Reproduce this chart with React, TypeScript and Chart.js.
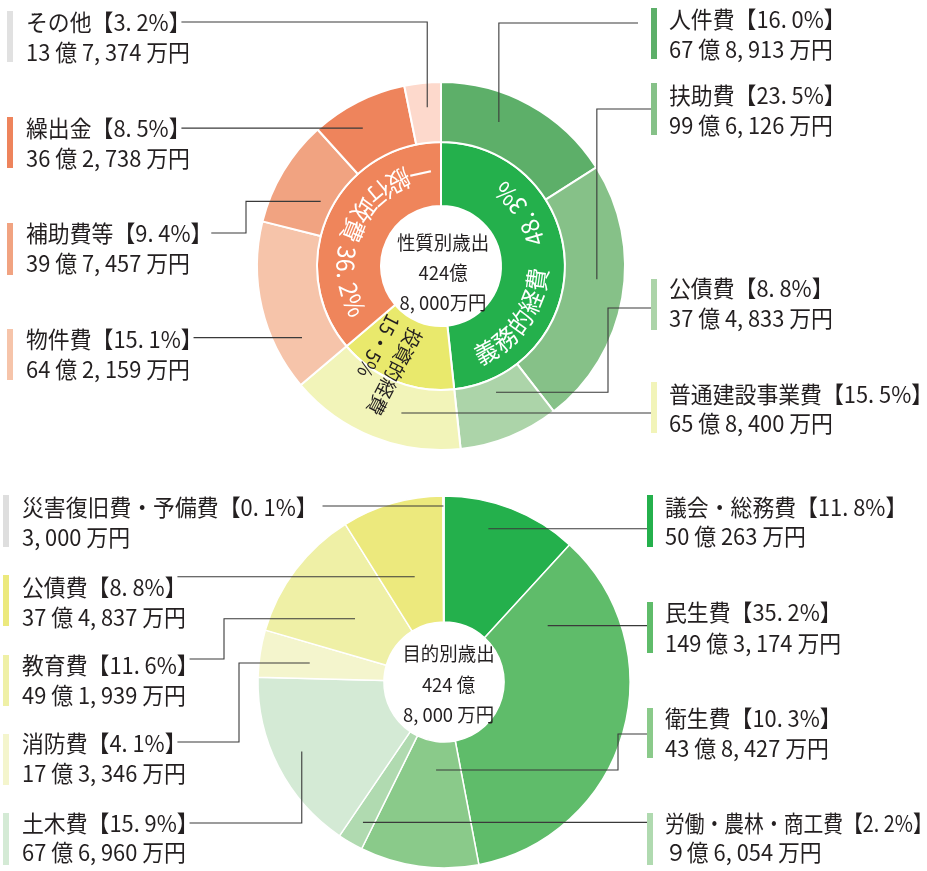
import React, { useEffect, useRef } from 'react';
import { Chart, registerables } from 'chart.js';

Chart.register(...registerables);

// ---------- 性質別歳出 (top) ----------
const natureOuterLabels = ['人件費', '扶助費', '公債費', '普通建設事業費', '物件費', '補助費等', '繰出金', 'その他'];
const natureOuterValues = [16.0, 23.5, 8.8, 15.5, 15.1, 9.4, 8.5, 3.2];
const natureOuterAmounts = [
  '67 億 8, 913 万円',
  '99 億 6, 126 万円',
  '37 億 4, 833 万円',
  '65 億 8, 400 万円',
  '64 億 2, 159 万円',
  '39 億 7, 457 万円',
  '36 億 2, 738 万円',
  '13 億 7, 374 万円',
];
const natureOuterColors = ['#5daf69', '#86c188', '#acd4a9', '#f2f4b9', '#f6c4aa', '#f1a381', '#ee845c', '#fdd9cc'];
const natureOuterBarColors = ['#5daf69', '#86c188', '#acd4a9', '#f2f4b9', '#f6c4aa', '#f1a381', '#ee845c', '#e1e1e1'];
const natureInnerLabels = ['義務的経費', '投資的経費', '一般行政費'];
const natureInnerValues = [48.3, 15.5, 36.2];
const natureInnerColors = ['#24b04c', '#e9e96c', '#ef855b'];
const natureCenterLines = ['性質別歳出', '424億', '8, 000万円'];

// ---------- 目的別歳出 (bottom) ----------
const purposeLabels = ['議会・総務費', '民生費', '衛生費', '労働・農林・商工費', '土木費', '消防費', '教育費', '公債費', '災害復旧費・予備費'];
const purposeValues = [11.8, 35.2, 10.3, 2.2, 15.9, 4.1, 11.6, 8.8, 0.1];
const purposeAmounts = [
  '50 億 263 万円',
  '149 億 3, 174 万円',
  '43 億 8, 427 万円',
  '９億 6, 054 万円',
  '67 億 6, 960 万円',
  '17 億 3, 346 万円',
  '49 億 1, 939 万円',
  '37 億 4, 837 万円',
  '3, 000 万円',
];
const purposeColors = ['#24b04c', '#5fbc6a', '#8aca8a', '#b0dab0', '#d4ead5', '#f4f5cd', '#eff0a6', '#ece97d', '#d8d8d8'];
const purposeBarColors = ['#24b04c', '#5fbc6a', '#8aca8a', '#b0dab0', '#d4ead5', '#f4f5cd', '#eff0a6', '#ece97d', '#dedede'];
const purposeCenterLines = ['目的別歳出', '424 億', '8, 000 万円'];

// ---------- layout (page coordinates) ----------
const FONT = "'Noto Sans CJK JP', 'Noto Sans', sans-serif";
const TEXT = '#231f20';
const LINE = '#3a3a3a';
const LABEL_SIZE = 23;
const LABEL_SX = 0.95;

type Layout = {
  side: 'left' | 'right';
  barX: number; textX: number; y1: number; y2: number; barTop: number; barBottom: number;
  t: number; rf: number; route: 'h' | 'hv' | 'hvh';
  lineY?: number; elbowX?: number; endX?: number; gap?: number; sx?: number;
};

const natureLayout: Layout[] = [
  { side: 'right', barX: 651, textX: 669, y1: 19, y2: 49, barTop: 8, barBottom: 59, t: 0.38, rf: 0.52, route: 'hv', lineY: 23, endX: 638 },
  { side: 'right', barX: 651, textX: 669, y1: 95, y2: 125, barTop: 83, barBottom: 135, t: 0.44, rf: 0.54, route: 'hv', lineY: 109 },
  { side: 'right', barX: 651, textX: 669, y1: 288, y2: 318, barTop: 279, barBottom: 330, t: 0.45, rf: 0.23, route: 'hvh', lineY: 308, elbowX: 608 },
  { side: 'right', barX: 651, textX: 669, y1: 394, y2: 423, barTop: 382, barBottom: 433, t: 0.38, rf: 0.47, route: 'h' },
  { side: 'left', barX: 7, textX: 26, y1: 339, y2: 369, barTop: 329, barBottom: 380, t: 0.24, rf: 0.54, route: 'h' },
  { side: 'left', barX: 7, textX: 26, y1: 233, y2: 263, barTop: 223, barBottom: 275, t: 0.42, rf: 0.21, route: 'hvh', lineY: 233, elbowX: 246, gap: 8 },
  { side: 'left', barX: 7, textX: 26, y1: 128, y2: 158, barTop: 117, barBottom: 168, t: 0.41, rf: 0.575, route: 'h' },
  { side: 'left', barX: 7, textX: 26, y1: 22, y2: 52, barTop: 11, barBottom: 62, t: 0.57, rf: 0.59, route: 'hv', lineY: 22 },
];

const purposeLayout: Layout[] = [
  { side: 'right', barX: 647, textX: 665, y1: 507, y2: 536, barTop: 495, barBottom: 547, t: 0.38, rf: 0.79, route: 'h' },
  { side: 'right', barX: 647, textX: 665, y1: 612, y2: 643, barTop: 602, barBottom: 653, t: 0.15, rf: 0.46, route: 'h' },
  { side: 'right', barX: 647, textX: 665, y1: 718, y2: 748, barTop: 708, barBottom: 758, t: 0.43, rf: 0.225, route: 'hvh', lineY: 734, elbowX: 618 },
  { side: 'right', barX: 647, textX: 665, y1: 823, y2: 852, barTop: 813, barBottom: 865, t: 0.47, rf: 0.81, route: 'h', sx: 0.86 },
  { side: 'left', barX: 3, textX: 22, y1: 823, y2: 852, barTop: 813, barBottom: 865, t: 0.52, rf: 0.78, route: 'hv', lineY: 823 },
  { side: 'left', barX: 3, textX: 22, y1: 743, y2: 773, barTop: 734, barBottom: 785, t: 0.45, rf: 0.6, route: 'hvh', lineY: 742, elbowX: 239 },
  { side: 'left', barX: 3, textX: 22, y1: 665, y2: 695, barTop: 655, barBottom: 706, t: 0.46, rf: 0.39, route: 'hvh', lineY: 659, elbowX: 224 },
  { side: 'left', barX: 3, textX: 22, y1: 587, y2: 617, barTop: 575, barBottom: 626, t: 0.52, rf: 0.39, route: 'h' },
  { side: 'left', barX: 3, textX: 22, y1: 507, y2: 537, barTop: 495, barBottom: 547, t: 0.5, rf: 0.92, route: 'h', gap: 14 },
];

function pctText(v: number) {
  const [a, b] = v.toFixed(1).split('.');
  return `【${a}. ${b}%】`;
}

function drawText(ctx: CanvasRenderingContext2D, text: string, x: number, y: number, size: number, color: string, align: CanvasTextAlign, sx: number) {
  ctx.save();
  ctx.font = `${size}px ${FONT}`;
  ctx.fillStyle = color;
  ctx.textAlign = align;
  ctx.textBaseline = 'middle';
  ctx.translate(x, y);
  ctx.scale(sx, 1);
  ctx.fillText(text, 0, 0);
  const w = ctx.measureText(text).width * sx;
  ctx.restore();
  return w;
}

function drawArcText(ctx: CanvasRenderingContext2D, text: string, cx: number, cy: number, r: number, centerAngle: number, size: number, color: string, sx: number) {
  ctx.save();
  ctx.font = `${size}px ${FONT}`;
  ctx.fillStyle = color;
  ctx.textAlign = 'center';
  ctx.textBaseline = 'middle';
  const chars = Array.from(text);
  const ws = chars.map((ch) => ctx.measureText(ch).width * sx);
  const total = ws.reduce((a, b) => a + b, 0);
  const a0 = centerAngle + total / 2 / r;
  let acc = 0;
  chars.forEach((ch, i) => {
    const a = a0 - (acc + ws[i] / 2) / r;
    acc += ws[i];
    ctx.save();
    ctx.translate(cx + r * Math.cos(a), cy + r * Math.sin(a));
    ctx.rotate(Math.atan2(-Math.cos(a), Math.sin(a)));
    ctx.scale(sx, 1);
    ctx.fillText(ch, 0, 0);
    ctx.restore();
  });
  ctx.restore();
}

type RingText =
  | { kind: 'arc'; ds: number; idx: number; text: string; t: number; r: number; size: number; color: string }
  | { kind: 'radial'; ds: number; idx: number; lines: string[]; t: number; r: number; size: number; color: string; rot: number; lineGap: number; line2dx: number };

type PluginOpts = {
  id: string;
  offsetY: number;
  labels: string[];
  values: number[];
  amounts: string[];
  barColors: string[];
  layout: Layout[];
  centerLines: string[];
  centerDx: number;
  centerDy: number[];
  centerSize: number;
  ringTexts: RingText[];
};

function makePlugin(o: PluginOpts) {
  return {
    id: o.id,
    afterDraw(chart: any) {
      const ctx: CanvasRenderingContext2D = chart.ctx;
      const meta = chart.getDatasetMeta(0);
      const first = meta.data[0];
      const cx = first.x;
      const cy = first.y;

      // ring texts
      o.ringTexts.forEach((rt) => {
        const arc = chart.getDatasetMeta(rt.ds).data[rt.idx];
        const p = arc.getProps(['startAngle', 'endAngle'], true);
        const ang = p.startAngle + rt.t * (p.endAngle - p.startAngle);
        if (rt.kind === 'arc') {
          drawArcText(ctx, rt.text, cx, cy, rt.r, ang, rt.size, rt.color, 0.92);
        } else {
          ctx.save();
          ctx.translate(cx + rt.r * Math.cos(ang), cy + rt.r * Math.sin(ang));
          ctx.rotate(ang + (rt.rot * Math.PI) / 180);
          drawText(ctx, rt.lines[0], 0, 0, rt.size, rt.color, 'left', 0.95);
          drawText(ctx, rt.lines[1], rt.line2dx, rt.lineGap, rt.size, rt.color, 'left', 0.95);
          ctx.restore();
        }
      });

      // center text
      o.centerLines.forEach((s, i) => drawText(ctx, s, cx + o.centerDx, cy + o.centerDy[i], o.centerSize, TEXT, 'center', 0.97));

      // labels + leader lines
      ctx.save();
      ctx.strokeStyle = LINE;
      ctx.lineWidth = 1.1;
      o.layout.forEach((L, i) => {
        const oy = o.offsetY;
        const arc = meta.data[i];
        const p = arc.getProps(['startAngle', 'endAngle', 'innerRadius', 'outerRadius'], true);
        const ang = p.startAngle + L.t * (p.endAngle - p.startAngle);
        const rr = p.innerRadius + L.rf * (p.outerRadius - p.innerRadius);
        const A = { x: cx + rr * Math.cos(ang), y: cy + rr * Math.sin(ang) };

        // bar
        ctx.fillStyle = o.barColors[i];
        ctx.fillRect(L.barX, L.barTop - oy, 6, L.barBottom - L.barTop);
        // text
        const sxl = L.sx || LABEL_SX;
        const line1 = o.labels[i] + pctText(o.values[i]);
        const w = drawText(ctx, line1, L.textX, L.y1 - oy, LABEL_SIZE, TEXT, 'left', sxl);
        drawText(ctx, o.amounts[i], L.textX, L.y2 - oy, LABEL_SIZE, TEXT, 'left', LABEL_SX);

        let sx: number;
        if (L.side === 'left') {
          sx = L.textX + w - LABEL_SIZE * sxl * 0.42 + (L.gap || 0);
        } else {
          sx = L.endX !== undefined ? L.endX : L.barX;
        }
        ctx.beginPath();
        if (L.route === 'h') {
          ctx.moveTo(sx, A.y);
          ctx.lineTo(A.x, A.y);
        } else if (L.route === 'hv') {
          const ly = (L.lineY as number) - oy;
          ctx.moveTo(sx, ly);
          ctx.lineTo(A.x, ly);
          ctx.lineTo(A.x, A.y);
        } else {
          const ly = (L.lineY as number) - oy;
          ctx.moveTo(sx, ly);
          ctx.lineTo(L.elbowX as number, ly);
          ctx.lineTo(L.elbowX as number, A.y);
          ctx.lineTo(A.x, A.y);
        }
        ctx.stroke();
      });
      ctx.restore();
    },
  };
}

export default function App() {
  const topRef = useRef<HTMLCanvasElement>(null);
  const botRef = useRef<HTMLCanvasElement>(null);

  useEffect(() => {
    const topChart = new Chart(topRef.current as HTMLCanvasElement, {
      type: 'doughnut',
      data: {
        labels: natureOuterLabels,
        datasets: [
          { data: natureOuterValues, backgroundColor: natureOuterColors, borderColor: '#ffffff', borderWidth: 2, weight: 60 } as any,
          { data: natureInnerValues, labels: natureInnerLabels, backgroundColor: natureInnerColors, borderColor: '#ffffff', borderWidth: 2, weight: 64 } as any,
        ],
      },
      options: {
        responsive: false,
        animation: false,
        events: [],
        radius: 184,
        cutout: '32.6%',
        layout: { padding: { left: 257, right: 302, top: 82, bottom: 10 } },
        plugins: { legend: { display: false }, tooltip: { enabled: false } },
      } as any,
      plugins: [
        makePlugin({
          id: 'natureLabels',
          offsetY: 0,
          labels: natureOuterLabels,
          values: natureOuterValues,
          amounts: natureOuterAmounts,
          barColors: natureOuterBarColors,
          layout: natureLayout,
          centerLines: natureCenterLines,
          centerDx: 2,
          centerDy: [-23, 7, 37],
          centerSize: 19,
          ringTexts: [
            { kind: 'arc', ds: 1, idx: 0, text: natureInnerLabels[0] + '　' + natureInnerValues[0].toFixed(1).replace('.', '. ') + '%', t: 0.56, r: 97, size: 25, color: '#ffffff' },
            { kind: 'arc', ds: 1, idx: 2, text: natureInnerLabels[2] + ' ' + natureInnerValues[2].toFixed(1).replace('.', '. ') + '%', t: 0.515, r: 95, size: 25, color: '#ffffff' },
            { kind: 'radial', ds: 1, idx: 1, lines: [natureInnerLabels[1], natureInnerValues[1].toFixed(1).replace('.', '・') + '%'], t: 0.49, r: 68, size: 20, color: '#231f20', rot: 6, lineGap: 26, line2dx: -2 },
          ],
        }),
      ],
    });

    const botChart = new Chart(botRef.current as HTMLCanvasElement, {
      type: 'doughnut',
      data: {
        labels: purposeLabels,
        datasets: [{ data: purposeValues, backgroundColor: purposeColors, borderColor: '#ffffff', borderWidth: 1.5 }],
      },
      options: {
        responsive: false,
        animation: false,
        events: [],
        radius: 186,
        cutout: '32.3%',
        layout: { padding: { left: 258, right: 297, top: 36, bottom: 3 } },
        plugins: { legend: { display: false }, tooltip: { enabled: false } },
      } as any,
      plugins: [
        makePlugin({
          id: 'purposeLabels',
          offsetY: 460,
          labels: purposeLabels,
          values: purposeValues,
          amounts: purposeAmounts,
          barColors: purposeBarColors,
          layout: purposeLayout,
          centerLines: purposeCenterLines,
          centerDx: 4.5,
          centerDy: [-28, 3, 33],
          centerSize: 19,
          ringTexts: [],
        }),
      ],
    });

    return () => {
      topChart.destroy();
      botChart.destroy();
    };
  }, []);

  return (
    <div style={{ position: 'absolute', left: 0, top: 0, width: 927, height: 871, background: '#ffffff' }}>
      <canvas ref={topRef} width={927} height={460} style={{ position: 'absolute', left: 0, top: 0, width: 927, height: 460 }} />
      <canvas ref={botRef} width={927} height={411} style={{ position: 'absolute', left: 0, top: 460, width: 927, height: 411 }} />
    </div>
  );
}
